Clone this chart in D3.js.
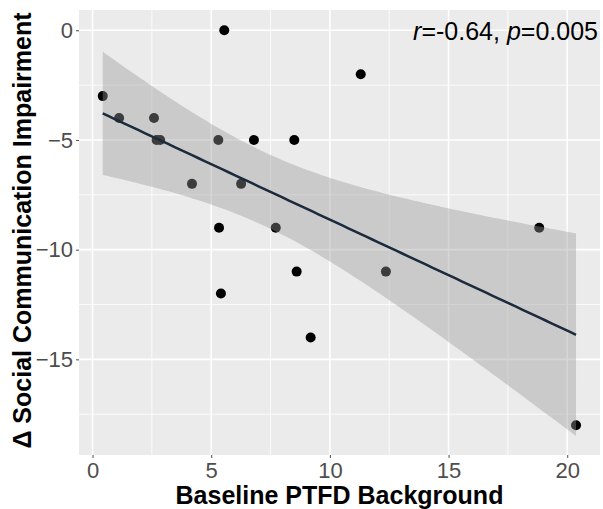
<!DOCTYPE html>
<html>
<head>
<meta charset="utf-8">
<script src="https://cdn.jsdelivr.net/npm/d3@7"></script>
<style>
  body { margin: 0; background: #fff; }
  svg { display: block; font-family: "Liberation Sans", Arial, sans-serif; }
</style>
</head>
<body>
<div id="chart"></div>
<script>
// ---- data ----
const ptfd = [0.43, 1.12, 2.59, 2.7, 2.85, 4.19, 5.3, 5.55, 5.33, 5.41,
              6.26, 6.8, 7.72, 8.5, 8.6, 9.19, 11.3, 12.36, 18.82, 20.37];
const deltaSCI = [-3, -4, -4, -5, -5, -7, -5, 0, -9, -12,
                  -7, -5, -9, -5, -11, -14, -2, -11, -9, -18];
const xTicks = [0, 5, 10, 15, 20];
const yTicks = [0, -5, -10, -15];
const xMinor = [2.5, 7.5, 12.5, 17.5];
const yMinor = [-2.5, -7.5, -12.5, -17.5];
const tCrit = 2.101;   // t(0.975, df = 18)

// ---- layout ----
const W = 603, H = 509;
const margin = {top: 10, right: 3, bottom: 54, left: 79};
const width = W - margin.left - margin.right;
const height = H - margin.top - margin.bottom;

const svg = d3.select("#chart").append("svg")
    .attr("width", W)
    .attr("height", H);

const g = svg.append("g")
    .attr("transform", `translate(${margin.left},${margin.top})`);

const x = d3.scaleLinear().domain([-0.57, 21.38]).range([0, width]);
const y = d3.scaleLinear().domain([-19.36, 0.925]).range([height, 0]);

// panel + grid
g.append("rect").attr("width", width).attr("height", height).attr("fill", "#ebebeb");

g.selectAll(".xmin").data(xMinor).enter().append("line")
    .attr("x1", d => x(d)).attr("x2", d => x(d))
    .attr("y1", 0).attr("y2", height)
    .attr("stroke", "#fff").attr("stroke-width", 0.8);
g.selectAll(".ymin").data(yMinor).enter().append("line")
    .attr("y1", d => y(d)).attr("y2", d => y(d))
    .attr("x1", 0).attr("x2", width)
    .attr("stroke", "#fff").attr("stroke-width", 0.8);
g.selectAll(".xmaj").data(xTicks).enter().append("line")
    .attr("x1", d => x(d)).attr("x2", d => x(d))
    .attr("y1", 0).attr("y2", height)
    .attr("stroke", "#fff").attr("stroke-width", 1.6);
g.selectAll(".ymaj").data(yTicks).enter().append("line")
    .attr("y1", d => y(d)).attr("y2", d => y(d))
    .attr("x1", 0).attr("x2", width)
    .attr("stroke", "#fff").attr("stroke-width", 1.6);

// ---- points ----
const pts = ptfd.map((v, i) => ({x: v, y: deltaSCI[i]}));
g.selectAll("circle").data(pts).enter().append("circle")
    .attr("cx", d => x(d.x)).attr("cy", d => y(d.y))
    .attr("r", 5).attr("fill", "#000");

// ---- linear fit + 95% CI ----
const n = pts.length;
const mx = d3.mean(ptfd), my = d3.mean(deltaSCI);
const sxx = d3.sum(ptfd, v => (v - mx) ** 2);
const sxy = d3.sum(pts, d => (d.x - mx) * (d.y - my));
const slope = sxy / sxx, icpt = my - slope * mx;
const s = Math.sqrt(d3.sum(pts, d => (d.y - (icpt + slope * d.x)) ** 2) / (n - 2));

const [x0, x1] = d3.extent(ptfd);
const fit = d3.range(80).map(i => {
    const xv = x0 + (x1 - x0) * i / 79;
    const yv = icpt + slope * xv;
    const se = s * Math.sqrt(1 / n + (xv - mx) ** 2 / sxx);
    return {x: xv, y: yv, lo: yv - tCrit * se, hi: yv + tCrit * se};
});

g.append("path").datum(fit)
    .attr("fill", "#999").attr("fill-opacity", 0.4)
    .attr("d", d3.area().x(d => x(d.x)).y0(d => y(d.lo)).y1(d => y(d.hi)));

g.append("path").datum(fit)
    .attr("fill", "none").attr("stroke", "#1b2a3c").attr("stroke-width", 2.5)
    .attr("d", d3.line().x(d => x(d.x)).y(d => y(d.y)));

// ---- axes ----
const xAxis = g.append("g").attr("transform", `translate(0,${height})`)
    .call(d3.axisBottom(x).tickValues(xTicks).tickSize(3).tickPadding(4));
const yAxis = g.append("g")
    .call(d3.axisLeft(y).tickValues(yTicks).tickSize(3).tickPadding(3));
[xAxis, yAxis].forEach(a => {
    a.select(".domain").remove();
    a.selectAll("line").attr("stroke", "#4d4d4d");
    a.selectAll("text").attr("fill", "#4d4d4d").style("font-size", "22px")
        .style("font-family", "'Liberation Sans', Arial, sans-serif");
});

// ---- labels ----
svg.append("text")
    .attr("x", margin.left + width / 2).attr("y", 504)
    .attr("text-anchor", "middle")
    .style("font-size", "25px").style("font-weight", "bold")
    .text("Baseline PTFD Background");

svg.append("text")
    .attr("transform", `translate(31,${margin.top + height / 2 - 2}) rotate(-90)`)
    .attr("text-anchor", "middle")
    .style("font-size", "25px").style("font-weight", "bold")
    .text("Δ Social Communication Impairment");

const ann = svg.append("text")
    .attr("x", 598).attr("y", 40)
    .attr("text-anchor", "end")
    .style("font-size", "25px");
ann.append("tspan").style("font-style", "italic").text("r");
ann.append("tspan").text("=-0.64, ");
ann.append("tspan").style("font-style", "italic").text("p");
ann.append("tspan").text("=0.005");
</script>
</body>
</html>
